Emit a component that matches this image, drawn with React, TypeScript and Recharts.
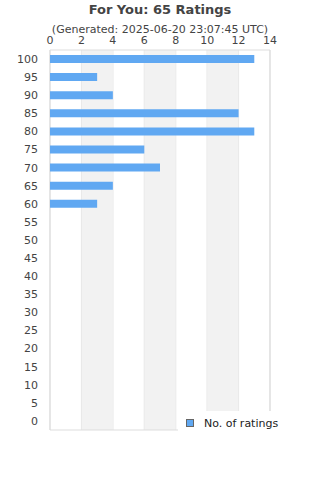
import { Bar, BarChart, CartesianGrid, ReferenceArea, XAxis, YAxis } from "recharts"

// ratings (category labels, top to bottom)
const ratings = ["100", "95", "90", "85", "80", "75", "70", "65", "60", "55", "50", "45", "40", "35", "30", "25", "20", "15", "10", "5", "0"]
const counts = [13, 3, 4, 12, 13, 6, 7, 4, 3, 0, 0, 0, 0, 0, 0, 0, 0, 0, 0, 0, 0]
const xTicks = [0, 2, 4, 6, 8, 10, 12, 14]
const bands = [[2, 4], [6, 8], [10, 12]]

const data = ratings.map((r, i) => ({ rating: r, count: counts[i] }))

const font = "'DejaVu Sans', sans-serif"
const textColor = "#444"
const barColor = "#60a8f2"

export default function App() {
  return (
    <div style={{ position: "absolute", left: 0, top: 0, width: 320, height: 480, background: "#fff" }}>
      <div style={{ position: "absolute", top: 2, width: 320, textAlign: "center", fontFamily: font, fontWeight: "bold", fontSize: 13, color: textColor }}>
        For You: 65 Ratings
      </div>
      <div style={{ position: "absolute", top: 23, width: 320, textAlign: "center", fontFamily: font, fontSize: 11, color: textColor }}>
        (Generated: 2025-06-20 23:07:45 UTC)
      </div>
      <BarChart
        width={320}
        height={480}
        data={data}
        layout="vertical"
        margin={{ top: 20, right: 50, bottom: 50, left: 0 }}
        barCategoryGap={0}
      >
        {bands.map(([a, b]) => (
          <ReferenceArea key={a} x1={a} x2={b} fill="#f2f2f2" fillOpacity={1} stroke="none" />
        ))}
        <CartesianGrid horizontal={false} stroke="#ddd" />
        <ReferenceArea x1={0} x2={14} fill="none" stroke="#ddd" strokeWidth={1} />
        <XAxis
          type="number"
          orientation="top"
          domain={[0, 14]}
          ticks={xTicks}
          height={30}
          axisLine={false}
          tickLine={false}
          tick={{ fill: textColor, fontSize: 11, fontFamily: font }}
          tickMargin={0}
          interval={0}
        />
        <YAxis
          type="category"
          dataKey="rating"
          width={50}
          axisLine={false}
          tickLine={false}
          tick={{ fill: textColor, fontSize: 11, fontFamily: font }}
          tickMargin={6}
          interval={0}
        />
        <Bar dataKey="count" name="No. of ratings" fill={barColor} barSize={8} isAnimationActive={false} />
      </BarChart>
      {/* legend sits over the lower right of the plot, like the original */}
      <div
        style={{
          position: "absolute", left: 178, top: 411, width: 107, height: 24, background: "#fff",
          display: "flex", alignItems: "center", paddingLeft: 8, boxSizing: "border-box",
          fontFamily: font, fontSize: 11, color: "#222",
        }}
      >
        <span style={{ display: "inline-block", width: 6, height: 6, background: barColor, border: "1px solid #666", marginRight: 10 }} />
        No. of ratings
      </div>
    </div>
  )
}
